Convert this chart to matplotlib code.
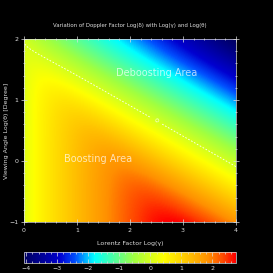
import numpy as np
import matplotlib
matplotlib.use("Agg")
import matplotlib.pyplot as plt
from matplotlib.colors import LinearSegmentedColormap
from matplotlib.ticker import MultipleLocator

# grid of Lorentz factor and viewing angle (log10)
log_gamma = np.linspace(0, 4, 241)
log_theta = np.linspace(-1, 2, 181)

# doppler factor delta = 1 / (gamma * (1 - beta cos theta))
G, T = np.meshgrid(10 ** log_gamma, np.radians(10 ** log_theta))
beta = np.sqrt(1 - 1 / G ** 2)
log_delta = np.log10(1 / (G * (1 - beta * np.cos(T))))

title = "Variation of Doppler Factor Log(\u03b4) with Log(\u03b3) and Log(\u03b8)"
xlabel = "Lorentz Factor Log(\u03b3)"
ylabel = "Viewing Angle Log(\u03b8) [Degree]"
cbar_ticks = [-4, -3, -2, -1, 0, 1, 2]

# IDL-like rainbow table
cmap = LinearSegmentedColormap.from_list("idl", [
    (0.00, "#000060"),
    (0.17, "#0000d0"),
    (0.24, "#0050ff"),
    (0.33, "#00ffff"),
    (0.52, "#a0ff40"),
    (0.66, "#ffff00"),
    (0.75, "#ffd000"),
    (0.87, "#ff9000"),
    (0.95, "#ff4000"),
    (1.00, "#ff0000"),
])

fg = "#dddddd"
fig = plt.figure(figsize=(2.73, 2.73), dpi=100, facecolor="black")
ax = fig.add_axes([0.088, 0.187, 0.776, 0.670], facecolor="black")
vmin, vmax = log_delta.min(), log_delta.max()
im = ax.imshow(log_delta, origin="lower", extent=[0, 4, -1, 2], aspect="auto",
               cmap=cmap, vmin=vmin, vmax=vmax, interpolation="bilinear")
cs = ax.contour(log_gamma, log_theta, log_delta, levels=[0], colors="white",
                linestyles=[(0, (2, 2))], linewidths=0.6)
ax.clabel(cs, fmt={0: "0"}, fontsize=4.5, colors="white", manual=[(2.51, 0.70)])

ax.text(2.5, 1.44, "Deboosting Area", color="white", alpha=0.7, fontsize=7,
        ha="center", va="center")
ax.text(1.4, 0.03, "Boosting Area", color="white", alpha=0.7, fontsize=7,
        ha="center", va="center")

ax.set_xlim(0, 4)
ax.set_ylim(-1, 2)
ax.xaxis.set_major_locator(MultipleLocator(1))
ax.xaxis.set_minor_locator(MultipleLocator(0.2))
ax.yaxis.set_major_locator(MultipleLocator(1))
ax.yaxis.set_minor_locator(MultipleLocator(0.2))
ax.tick_params(which="both", direction="inout", colors=fg, labelsize=4.5,
               top=True, right=True, width=0.5)
ax.tick_params(which="major", length=4, pad=2)
ax.tick_params(which="minor", length=2)
for s in ax.spines.values():
    s.set_color(fg)
    s.set_linewidth(0.5)
ax.set_title(title, color=fg, fontsize=3.9, pad=9)
ax.set_xlabel(xlabel, color=fg, fontsize=4.5, labelpad=6)
ax.set_ylabel(ylabel, color=fg, fontsize=4.5, labelpad=0.5)

cax = fig.add_axes([0.088, 0.037, 0.776, 0.040])
cb = fig.colorbar(im, cax=cax, orientation="horizontal")
cb.set_ticks(cbar_ticks)
cb.ax.xaxis.set_minor_locator(MultipleLocator(0.2))
cb.ax.tick_params(which="both", colors=fg, labelsize=4.5, direction="in",
                  top=True, width=0.5, pad=2)
cb.ax.tick_params(which="major", length=3)
cb.ax.tick_params(which="minor", length=1.5)
cb.outline.set_edgecolor(fg)
cb.outline.set_linewidth(0.5)

fig.savefig("out.png", dpi=100, facecolor="black")
